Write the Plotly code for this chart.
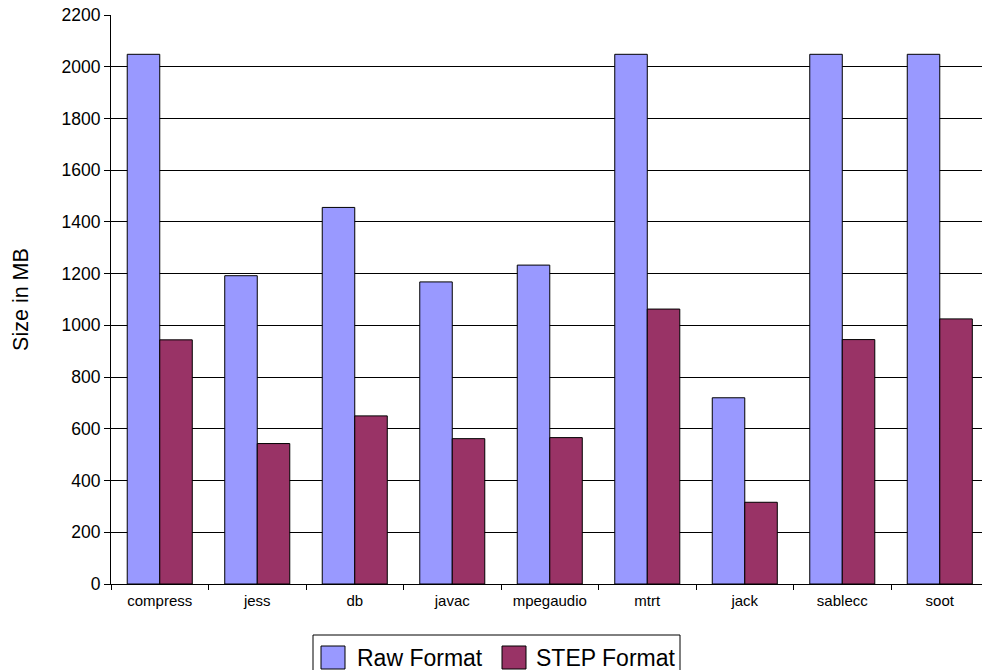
import plotly.graph_objects as go

# Benchmark trace sizes
benchmarks = ["compress", "jess", "db", "javac", "mpegaudio", "mtrt", "jack", "sablecc", "soot"]
raw_format_mb = [2048, 1192, 1456, 1168, 1233, 2048, 720, 2048, 2048]
step_format_mb = [944, 543, 650, 562, 566, 1063, 316, 945, 1025]
y_ticks = [0, 200, 400, 600, 800, 1000, 1200, 1400, 1600, 1800, 2000, 2200]

series_names = ["Raw Format", "STEP Format"]
series_colors = ["#9999FF", "#993366"]

FONT = "Liberation Sans, Arial, sans-serif"
W, H = 982, 670
M_L, M_R, M_T, M_B = 111, 0, 15, 86

fig = go.Figure()
for name, values, color in zip(series_names, [raw_format_mb, step_format_mb], series_colors):
    fig.add_trace(go.Bar(
        name=name, x=benchmarks, y=values, showlegend=False,
        marker=dict(color=color, line=dict(color="#000000", width=1)),
    ))

# Boxed legend below the plot, laid out in pixels and converted to paper units
plot_w = W - M_L - M_R
plot_h = H - M_T - M_B


def px_x(px):
    return (px - M_L) / plot_w


def px_y(py):
    return (H - M_B - py) / plot_h


shapes = [dict(
    type="rect", xref="paper", yref="paper",
    x0=px_x(313), x1=px_x(680), y0=px_y(690), y1=px_y(635),
    line=dict(color="#000000", width=1), fillcolor="white", layer="above",
)]
annotations = []
legend_slots = [(321, 355), (502, 534)]
for (sq_left, text_left), name, color in zip(legend_slots, series_names, series_colors):
    shapes.append(dict(
        type="rect", xref="paper", yref="paper",
        x0=px_x(sq_left), x1=px_x(sq_left + 24), y0=px_y(669), y1=px_y(646),
        line=dict(color="#000000", width=1), fillcolor=color, layer="above",
    ))
    annotations.append(dict(
        text=name, xref="paper", yref="paper", showarrow=False,
        x=px_x(text_left), y=px_y(657.5), xanchor="left", yanchor="middle",
        font=dict(size=23, family=FONT, color="#000000"),
    ))

fig.update_layout(
    width=W, height=H,
    margin=dict(l=M_L, r=M_R, t=M_T, b=M_B),
    paper_bgcolor="white", plot_bgcolor="white",
    barmode="group", bargap=0.333, bargroupgap=0,
    font=dict(family=FONT, color="#000000"),
    shapes=shapes, annotations=annotations,
)

fig.update_xaxes(
    type="category", range=[-0.5, 8.433],
    showline=True, linecolor="#000000", linewidth=1,
    ticks="outside", tickson="boundaries", ticklen=5, tickcolor="#000000",
    tickfont=dict(size=15, family=FONT), ticklabelstandoff=3,
    showgrid=False,
)
fig.update_yaxes(
    range=[0, 2200], tickvals=y_ticks,
    showline=True, linecolor="#000000", linewidth=1,
    ticks="outside", ticklen=6, tickcolor="#000000",
    tickfont=dict(size=17.5, family=FONT),
    showgrid=True, gridcolor="#000000", gridwidth=1,
    zeroline=False,
    title=dict(text="Size in MB", font=dict(size=21.5, family=FONT), standoff=27),
)

fig.write_html("out.html")
